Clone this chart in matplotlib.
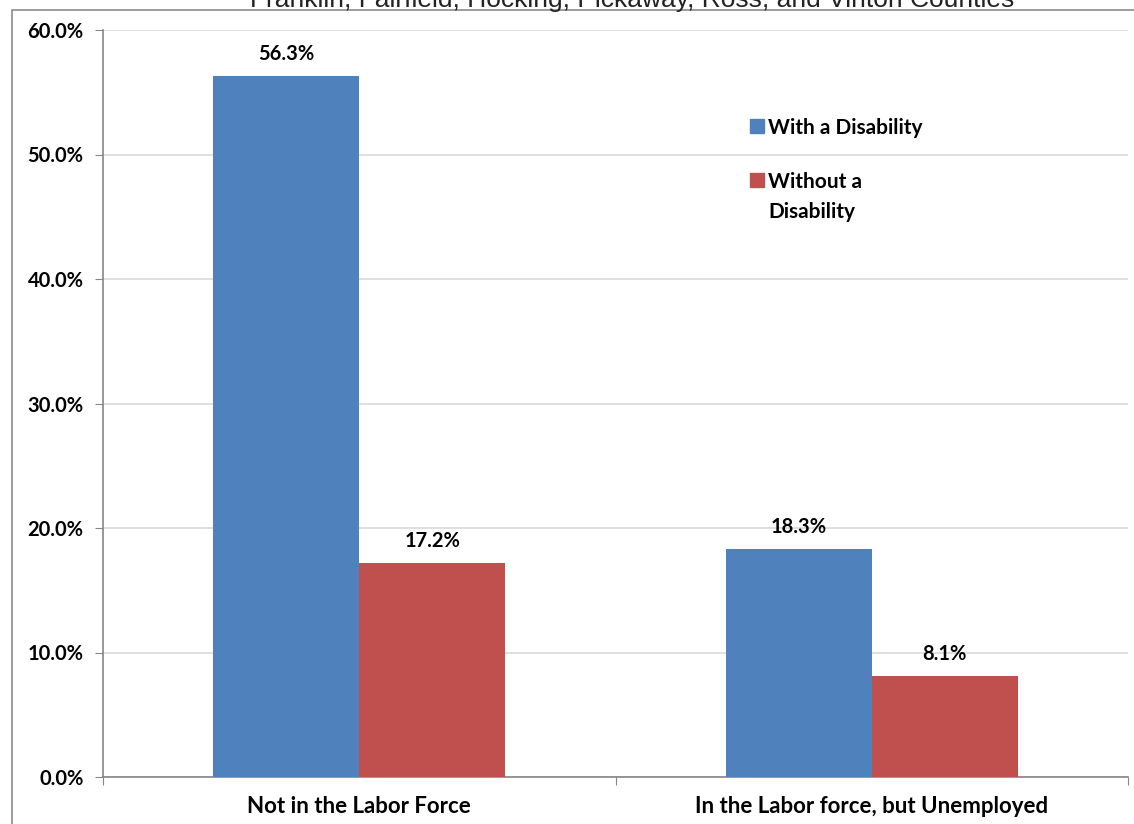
import numpy as np
import matplotlib
matplotlib.use('Agg')
import matplotlib.pyplot as plt
from matplotlib.patches import Rectangle

# 数据
categories = ['Not in the Labor Force', 'In the Labor force, but Unemployed']
series_names = ['With a Disability', 'Without a\nDisability']
with_disability = [56.3, 18.3]
without_disability = [17.2, 8.1]
y_ticks = [0, 10, 20, 30, 40, 50, 60]
title = 'Franklin, Fairfield, Hocking, Pickaway, Ross, and Vinton Counties'

colors = ['#4f81bd', '#c0504d']
label_font = ['Lato', 'DejaVu Sans']
W, H = 1134, 824


def fx(px):  # 像素 -> 图坐标
    return px / W


def fy(py):
    return 1 - py / H


fig = plt.figure(figsize=(W / 100, H / 100), dpi=100)
ax = fig.add_axes([fx(103), fy(777), (1128 - 103) / W, (777 - 30) / H])

# 外框
fig.patches.append(Rectangle((fx(12), -0.05), 1.2, fy(10) + 0.05,
                             transform=fig.transFigure, fill=False,
                             edgecolor='#8c8c8c', linewidth=1.2))

# 标题（原图顶部被截断）
fig.text(fx(632), fy(6.5), title, ha='center', va='baseline',
         fontsize=19, family=['Liberation Sans', 'DejaVu Sans'], color='#222222')

x = np.arange(len(categories))
w = 0.285
b1 = ax.bar(x - w / 2, with_disability, w, color=colors[0], zorder=3)
b2 = ax.bar(x + w / 2, without_disability, w, color=colors[1], zorder=3)

for bars, vals in [(b1, with_disability), (b2, without_disability)]:
    for rect, v in zip(bars, vals):
        ax.text(rect.get_x() + rect.get_width() / 2, v + 0.95, '%.1f%%' % v,
                ha='center', va='bottom', fontsize=14.5, fontweight='bold',
                family=label_font)

ax.set_xlim(-0.5, 1.5)
ax.set_ylim(0, 60)
ax.set_yticks(y_ticks)
ax.set_yticklabels(['%.1f%%' % t for t in y_ticks], fontsize=14.5,
                   fontweight='bold', family=label_font)
ax.set_xticks([-0.5, 0.5, 1.5])
ax.set_xticklabels([])
ax.set_xticks(x, minor=True)
ax.set_xticklabels(categories, minor=True, fontsize=16, fontweight='bold',
                   family=label_font)
ax.tick_params(axis='x', which='minor', length=0, pad=14)
ax.tick_params(axis='x', which='major', length=6, color='#868686')
ax.tick_params(axis='y', length=6, color='#868686', pad=8)

ax.grid(axis='y', color='#d9d9d9', linewidth=1.2, zorder=0)
for s in ['top', 'right']:
    ax.spines[s].set_visible(False)
for s in ['left', 'bottom']:
    ax.spines[s].set_color('#868686')
    ax.spines[s].set_linewidth(1.2)

# 图例（手动画，色块对齐第一行）
legend_y = [126, 180]
for name, c, ly in zip(series_names, colors, legend_y):
    fig.patches.append(Rectangle((fx(750), fy(ly + 7)), 14 / W, 14 / H,
                                 transform=fig.transFigure, color=c))
    fig.text(fx(768), fy(ly - 8), name, ha='left', va='top', fontsize=15,
             fontweight='bold', family=label_font, linespacing=1.62)

fig.savefig('out.png', dpi=100)
